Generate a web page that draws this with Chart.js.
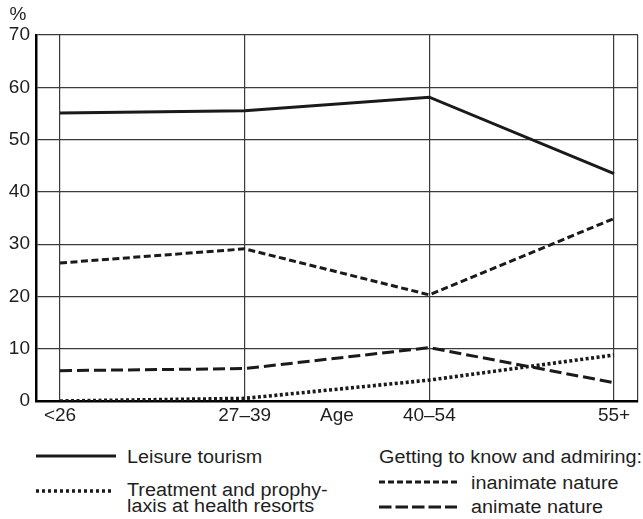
<!DOCTYPE html>
<html>
<head>
<meta charset="utf-8">
<script src="https://cdn.jsdelivr.net/npm/chart.js@4/dist/chart.umd.min.js"></script>
<style>
  html, body { margin: 0; padding: 0; background: #fff; }
  #wrap { position: relative; width: 643px; height: 519px; overflow: hidden; font-family: "Liberation Sans", Arial, sans-serif; color: #1e1e1e; }
  #chart { position: absolute; left: 0; top: 0; }
  .lg { position: absolute; font-size: 18px; line-height: 16px; white-space: nowrap; transform: scaleX(1.1); transform-origin: left center; }
  .sample { position: absolute; }
</style>
</head>
<body>
<div id="wrap">
  <canvas id="chart" width="643" height="430"></canvas>

  <svg class="sample" style="left:36px; top:446px" width="80" height="20"><line x1="0" y1="10" x2="80" y2="10" stroke="#1a1a1a" stroke-width="3"/></svg>
  <div class="lg" style="left:127px; top:449px">Leisure tourism</div>

  <svg class="sample" style="left:36px; top:481px" width="80" height="20"><line x1="0" y1="10" x2="78" y2="10" stroke="#1a1a1a" stroke-width="3.5" stroke-dasharray="3 3"/></svg>
  <div class="lg" style="left:127px; top:482px">Treatment and prophy-<br>laxis at health resorts</div>

  <div class="lg" style="left:379px; top:449px">Getting to know and admiring:</div>

  <svg class="sample" style="left:379px; top:472px" width="80" height="20"><line x1="0" y1="10" x2="78" y2="10" stroke="#1a1a1a" stroke-width="3" stroke-dasharray="6 3"/></svg>
  <div class="lg" style="left:471px; top:475px">inanimate nature</div>

  <svg class="sample" style="left:379px; top:497px" width="80" height="20"><line x1="0" y1="10" x2="78" y2="10" stroke="#1a1a1a" stroke-width="3" stroke-dasharray="12.5 4"/></svg>
  <div class="lg" style="left:471px; top:499px">animate nature</div>
</div>

<script>
'use strict';

// age groups on the x axis
const ageLabels = ['<26', '27–39', '40–54', '55+'];
const axisName = 'Age';
const axisNamePos = 1.5;

// y axis, percent
const yTicks = [0, 10, 20, 30, 40, 50, 60, 70];

// series values (%)
const leisure = [55.1, 55.5, 58.1, 43.5];
const treatment = [0, 0.5, 4.0, 8.8];
const inanimate = [26.4, 29.1, 20.3, 34.9];
const animate = [5.8, 6.2, 10.2, 3.5];

const ink = '#1a1a1a';
const gridColor = '#3a3a3a';
const labelColor = '#1e1e1e';
const tickFont = { family: '"Liberation Sans", Arial, sans-serif', size: 19 };

const xMin = -0.13;
const xMax = 3.13;

function points(values) {
  return values.map((v, i) => ({ x: i, y: v }));
}

function series(label, values, dash, width) {
  return {
    label: label,
    data: points(values),
    borderColor: ink,
    borderWidth: width || 3,
    borderDash: dash,
    borderCapStyle: 'butt',
    pointRadius: 0,
    tension: 0,
    fill: false,
  };
}

// "%" above the y axis
const percentLabel = {
  id: 'percent_label',
  afterDraw: (chart) => {
    const { ctx } = chart;
    ctx.save();
    ctx.font = '19px "Liberation Sans", Arial, sans-serif';
    ctx.fillStyle = labelColor;
    ctx.textAlign = 'center';
    ctx.textBaseline = 'middle';
    ctx.fillText('%', 18, 15);
    ctx.restore();
  },
};

const ctx = document.getElementById('chart').getContext('2d');
new Chart(ctx, {
  type: 'line',
  data: {
    datasets: [
      series('Leisure tourism', leisure, []),
      series('Treatment and prophylaxis at health resorts', treatment, [3, 2.5], 3.6),
      series('inanimate nature', inanimate, [7, 3.5]),
      series('animate nature', animate, [12, 5]),
    ],
  },
  options: {
    responsive: false,
    animation: false,
    devicePixelRatio: 1,
    layout: { padding: { top: 35, right: 5, left: 0, bottom: 0 } },
    plugins: {
      legend: { display: false },
      tooltip: { enabled: false },
    },
    scales: {
      x: {
        type: 'linear',
        min: xMin,
        max: xMax,
        afterBuildTicks: (scale) => {
          const vals = [0, 1, axisNamePos, 2, 3, xMax];
          scale.ticks = vals.map((v) => ({ value: v }));
        },
        afterFit: (scale) => {
          scale.height = 29;
        },
        ticks: {
          autoSkip: false,
          maxRotation: 0,
          padding: 3,
          color: labelColor,
          font: tickFont,
          callback: function (value) {
            if (value === axisNamePos) return axisName;
            if (Number.isInteger(value) && ageLabels[value] !== undefined) return ageLabels[value];
            return '';
          },
        },
        grid: {
          drawTicks: false,
          lineWidth: 1.2,
          color: function (context) {
            if (context.tick && context.tick.value === axisNamePos) return 'rgba(0,0,0,0)';
            return gridColor;
          },
        },
        border: { color: '#000', width: 2.5 },
      },
      y: {
        min: 0,
        max: 70,
        afterBuildTicks: (scale) => {
          scale.ticks = yTicks.map((v) => ({ value: v }));
        },
        afterFit: (scale) => {
          scale.width = 36;
        },
        ticks: {
          padding: 6,
          color: labelColor,
          font: tickFont,
        },
        grid: {
          drawTicks: false,
          lineWidth: 1.2,
          color: gridColor,
        },
        border: { color: '#000', width: 2.5 },
      },
    },
  },
  plugins: [percentLabel],
});
</script>
</body>
</html>
